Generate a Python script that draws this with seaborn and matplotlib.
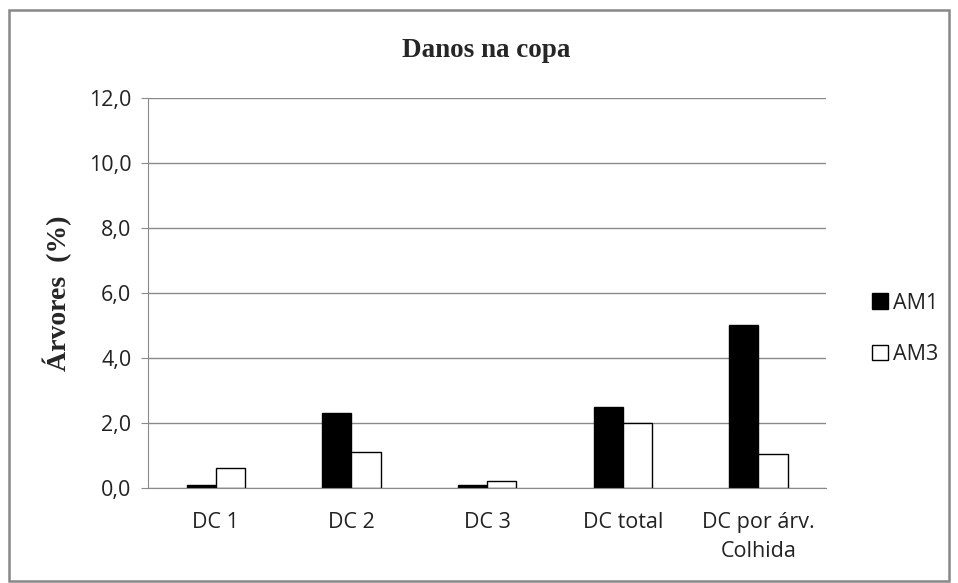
import pandas as pd
import matplotlib.pyplot as plt
import seaborn as sns
from matplotlib.patches import Rectangle
from matplotlib.ticker import FuncFormatter

# Dados
categorias = ["DC 1", "DC 2", "DC 3", "DC total", "DC por árv.\nColhida"]
am1 = [0.1, 2.3, 0.1, 2.5, 5.0]
am3 = [0.6, 1.1, 0.2, 2.0, 1.05]
series = ["AM1", "AM3"]

df = pd.DataFrame({
    "categoria": categorias * 2,
    "valor": am1 + am3,
    "serie": [series[0]] * len(categorias) + [series[1]] * len(categorias),
})

sns.set_style("white")
plt.rcParams['font.family'] = ['Open Sans', 'DejaVu Sans']

fig = plt.figure(figsize=(9.58, 5.83), dpi=100)
ax = fig.add_axes([0.1545, 0.163, 0.708, 0.669])

sns.barplot(data=df, x="categoria", y="valor", hue="serie",
            palette={"AM1": "black", "AM3": "white"},
            edgecolor="black", linewidth=1.0, width=0.43, gap=0,
            ax=ax, legend=True)

ax.set_ylim(0, 12)
ax.set_yticks([0, 2, 4, 6, 8, 10, 12])
ax.yaxis.set_major_formatter(FuncFormatter(lambda v, p: f"{v:.1f}".replace(".", ",")))
ax.yaxis.grid(True, color="#8a8a8a", linewidth=1.0)
ax.set_axisbelow(True)
ax.set_xlim(-0.5, len(categorias) - 0.5)

for s in ["top", "right"]:
    ax.spines[s].set_visible(False)
ax.spines["left"].set_color("#8a8a8a")
ax.spines["bottom"].set_color("#8a8a8a")
ax.tick_params(axis="y", left=True, length=5, color="#8a8a8a", labelsize=15.5,
               labelcolor="#222222", pad=7)
ax.tick_params(axis="x", bottom=False, length=0, labelsize=15.5,
               labelcolor="#222222", pad=17)
for t in ax.get_xticklabels():
    t.set_linespacing(1.55)

ax.set_xlabel("")
ax.set_ylabel("Árvores  (%)", family="Liberation Serif", fontweight="bold",
              fontsize=20, va="center")
ax.yaxis.set_label_coords(-0.133, 0.5)

fig.text(0.508, 0.914, "Danos na copa", ha="center", va="center",
         family="Liberation Serif", fontweight="bold", fontsize=19.5)

handles, labels = ax.get_legend_handles_labels()
ax.get_legend().remove()
fig.legend(handles, labels, loc="center left", bbox_to_anchor=(0.89, 0.436),
           frameon=False, fontsize=15.5, handlelength=0.74, handleheight=0.74,
           handletextpad=0.25, labelspacing=1.4, labelcolor="#222222")

fig.patches.append(Rectangle((0.009, 0.004), 0.982, 0.978, transform=fig.transFigure,
                             fill=False, edgecolor="#888888", linewidth=1.8))

plt.savefig("out.png", dpi=100)
plt.close()
